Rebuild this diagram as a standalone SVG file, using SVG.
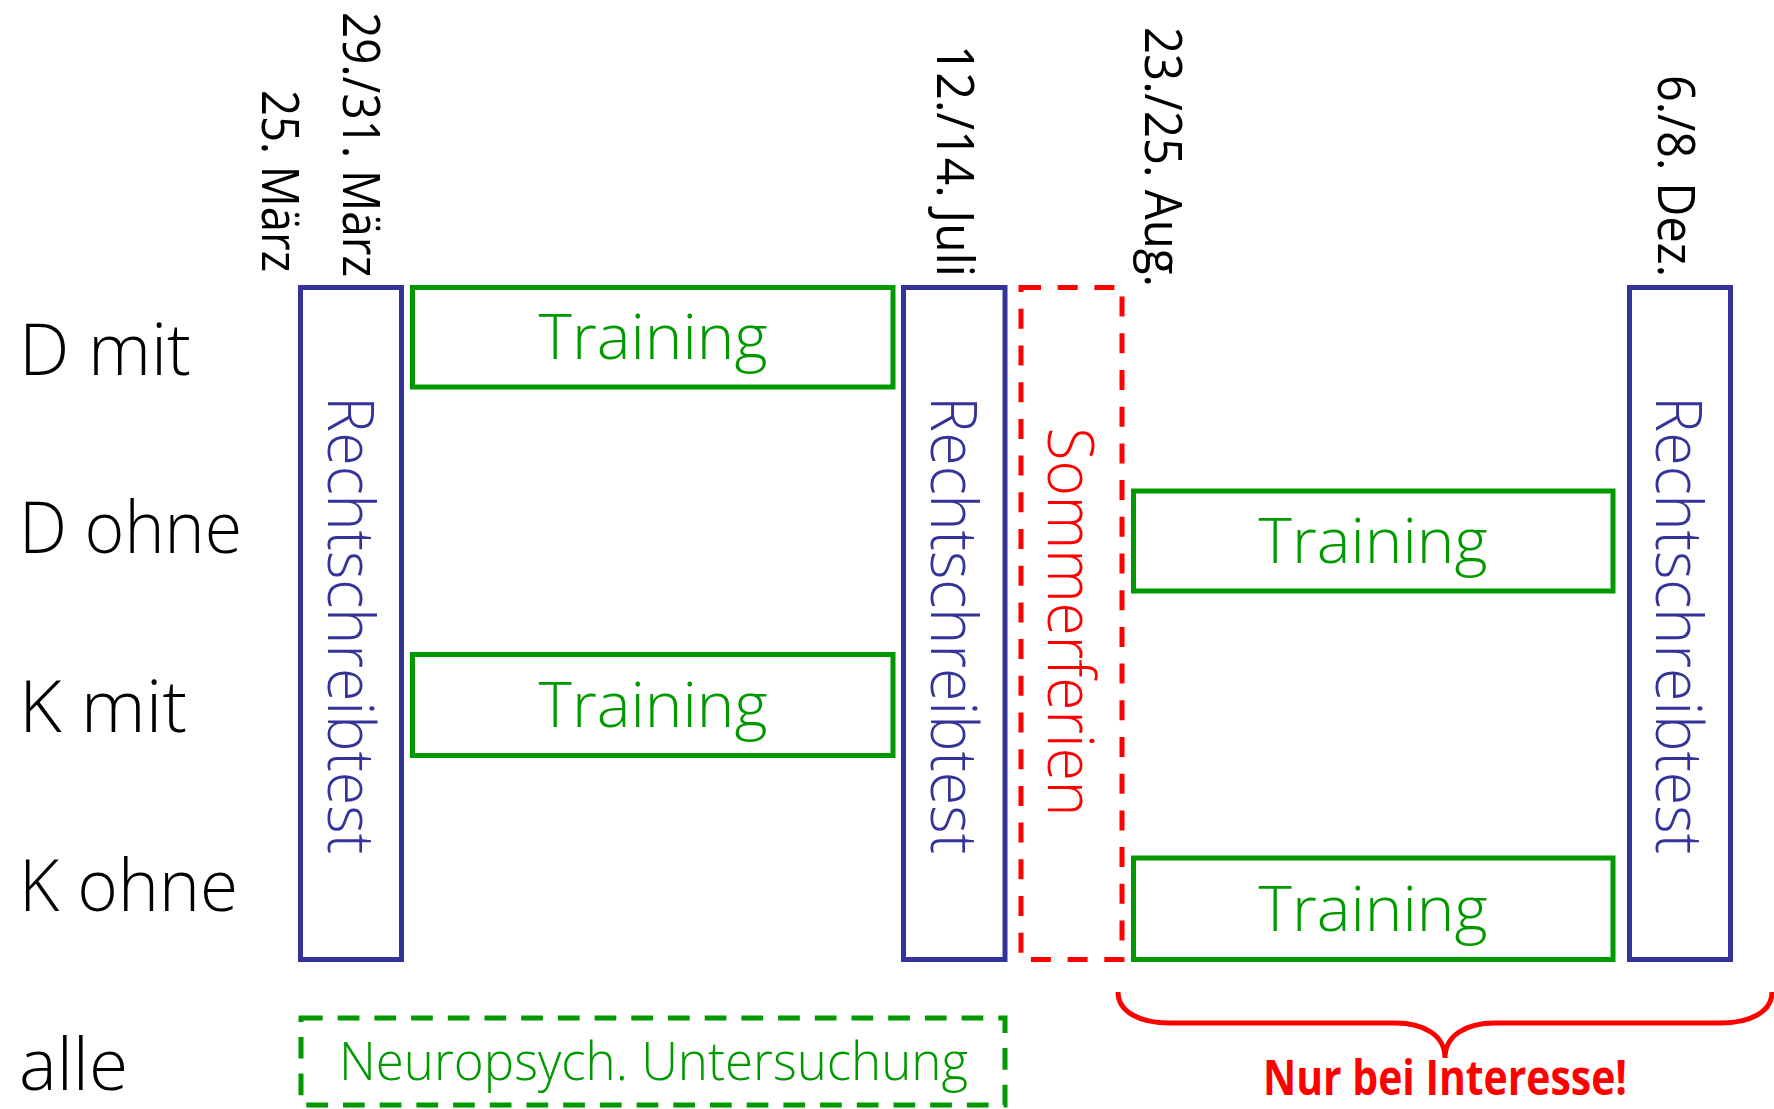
<svg xmlns="http://www.w3.org/2000/svg" width="1774" height="1109" viewBox="0 0 1774 1109">
<style>
text{font-family:"Open Sans","Noto Sans",sans-serif;font-weight:300}
.row{font-size:71px;fill:#000}
.date{font-size:52px;fill:#000;text-anchor:end;font-weight:400}
.blue{fill:none;stroke:#333399;stroke-width:5}
.grn{fill:none;stroke:#009900;stroke-width:5}
.rdash{fill:none;stroke:#ff0000;stroke-width:5;stroke-dasharray:20 16.7}
.gdash{fill:none;stroke:#009900;stroke-width:5;stroke-dasharray:21.7 15}
.vt{font-size:64px;text-anchor:middle}
.tr{font-size:63px;fill:#009900;text-anchor:middle}
</style>
<rect width="1774" height="1109" fill="#fff"/>
<g id="rows">
<text class="row" x="19" y="375" textLength="172" lengthAdjust="spacingAndGlyphs">D mit</text>
<text class="row" x="19" y="553" textLength="223" lengthAdjust="spacingAndGlyphs">D ohne</text>
<text class="row" x="19" y="732" textLength="168" lengthAdjust="spacingAndGlyphs">K mit</text>
<text class="row" x="19" y="911" textLength="219" lengthAdjust="spacingAndGlyphs">K ohne</text>
<text class="row" x="19" y="1090" textLength="109" lengthAdjust="spacingAndGlyphs">alle</text>
</g>
<g id="dates">
<text class="date" transform="translate(262,272) rotate(90)" textLength="182" lengthAdjust="spacingAndGlyphs">25. März</text>
<text class="date" transform="translate(343,277) rotate(90)" textLength="265" lengthAdjust="spacingAndGlyphs">29./31. März</text>
<text class="date" transform="translate(937,277) rotate(90)" textLength="232" lengthAdjust="spacingAndGlyphs">12./14. Juli</text>
<text class="date" transform="translate(1145,287) rotate(90)" textLength="260" lengthAdjust="spacingAndGlyphs">23./25. Aug.</text>
<text class="date" transform="translate(1658,277) rotate(90)" textLength="202" lengthAdjust="spacingAndGlyphs">6./8. Dez.</text>
</g>
<g id="test1">
<rect class="blue" x="300.5" y="287.5" width="101" height="672"/>
<text class="vt" fill="#333399" transform="translate(328,625) rotate(90)" textLength="458" lengthAdjust="spacingAndGlyphs">Rechtschreibtest</text>
</g>
<g id="test2">
<rect class="blue" x="903.5" y="287.5" width="101.5" height="672"/>
<text class="vt" fill="#333399" transform="translate(931,625) rotate(90)" textLength="458" lengthAdjust="spacingAndGlyphs">Rechtschreibtest</text>
</g>
<g id="test3">
<rect class="blue" x="1629.5" y="287.5" width="101" height="672"/>
<text class="vt" fill="#333399" transform="translate(1656,625) rotate(90)" textLength="458" lengthAdjust="spacingAndGlyphs">Rechtschreibtest</text>
</g>
<g id="ferien">
<rect class="rdash" x="1021" y="287.5" width="101" height="672"/>
<text class="vt" fill="#ff0000" transform="translate(1048,622) rotate(90)" textLength="389" lengthAdjust="spacingAndGlyphs">Sommerferien</text>
</g>
<g id="training1">
<rect class="grn" x="412.5" y="287.5" width="480.5" height="99.5"/>
<text class="tr" x="653" y="359" textLength="229" lengthAdjust="spacingAndGlyphs">Training</text>
</g>
<g id="training2">
<rect class="grn" x="1133.5" y="491" width="479.5" height="100"/>
<text class="tr" x="1373" y="563" textLength="229" lengthAdjust="spacingAndGlyphs">Training</text>
</g>
<g id="training3">
<rect class="grn" x="412.5" y="654.5" width="480.5" height="101"/>
<text class="tr" x="653" y="727" textLength="229" lengthAdjust="spacingAndGlyphs">Training</text>
</g>
<g id="training4">
<rect class="grn" x="1133.5" y="858" width="479.5" height="101.5"/>
<text class="tr" x="1373" y="931" textLength="229" lengthAdjust="spacingAndGlyphs">Training</text>
</g>
<g id="neuro">
<rect class="gdash" x="301" y="1018" width="704" height="87"/>
<text x="653.5" y="1080" font-size="54" fill="#009900" text-anchor="middle" textLength="629" lengthAdjust="spacingAndGlyphs">Neuropsych. Untersuchung</text>
</g>
<g id="connectors">
<path d="M1118,992 C1118,1012 1140,1023 1170,1023 L1395,1023 C1425,1023 1445,1036 1445,1058 C1445,1036 1465,1023 1495,1023 L1720,1023 C1750,1023 1772,1012 1772,992" fill="none" stroke="#ff0000" stroke-width="5"/>
</g>
<g id="note">
<text x="1445" y="1095" font-size="49" fill="#ff0000" text-anchor="middle" textLength="364" lengthAdjust="spacingAndGlyphs" style="font-weight:700">Nur bei Interesse!</text>
</g>
</svg>
